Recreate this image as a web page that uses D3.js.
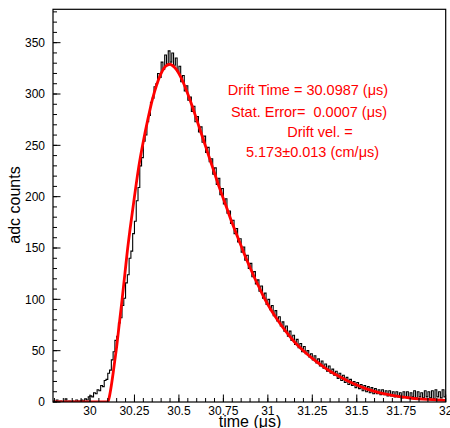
<!DOCTYPE html>
<html><head><meta charset="utf-8">
<script src="https://cdn.jsdelivr.net/npm/d3@7"></script>
<style>body{margin:0;background:#fff}svg{display:block}text{white-space:pre}</style>
</head><body>
<script>
// ---- data ----
const histStart = 29.79, histStep = 0.01;
const histCounts = [
1,0,2,0,1,0,0,3,0,1, 0,1,0,2,1,1,2,1,3,2,
5,6,5,9,8,12,11,16,15,21, 22,28,31,41,49,60,64,77,82,94,
101,116,124,140,147,164,176,196,209,230, 238,254,260,273,279,292,296,307,310,320,
316,331,324,338,329,342,331,340,328,335, 322,327,312,318,303,308,294,297,283,288,
273,278,263,268,253,259,243,248,234,237, 222,228,212,218,202,208,193,198,184,186,
174,177,164,169,156,159,146,151,138,143, 130,135,122,127,115,119,108,113,101,106,
95,100,90,94,84,89,79,83,74,78, 69,74,64,69,60,65,56,61,53,57,
49,54,47,50,44,47,41,45,38,42, 35,40,33,37,30,35,28,32,26,30,
23,28,21,26,19,24,17,22,16,20, 14,19,13,17,11,16,10,15,9,14,
8,13,8,12,7,12,7,11,6,11, 6,10,5,10,5,9,4,10,5,10,
4,9,5,11,4,10,5,9,4,11, 5,10,4,11,3,12,5,10,4,12,
5,11
];
const fitTimes = [29.79,30.10,30.11,30.12,30.13,30.14,30.15,30.16,30.17,30.18,30.19,30.20,30.21,30.225,30.25,30.275,30.30,30.325,30.35,30.375,30.40,30.425,30.45,30.475,30.50,30.525,30.55,30.575,30.60,30.625,30.65,30.675,30.70,30.725,30.75,30.775,30.80,30.825,30.85,30.875,30.90,30.925,30.95,30.975,31.00,31.05,31.10,31.15,31.20,31.25,31.30,31.35,31.40,31.45,31.50,31.55,31.60,31.65,31.70,31.75,31.80,31.85,31.90,31.95,32.00];
const fitValues = [0,0,6,16,28,41,54,69,84,99,115,131,147,168,200,230,254,275,294,309,320,327,329,326,320,311,300,288,275,262,249,236,223,210,198,186,174,163,152,141,131,121,112,103,95,81,69,58.5,50,42.5,36,30,25,20.5,16.5,13,10.3,8.1,6.4,5,3.9,3.1,2.5,2,1.6];
const xTickValues = [30,30.25,30.5,30.75,31,31.25,31.5,31.75,32];
const xTickLabels = ["30","30.25","30.5","30.75","31","31.25","31.5","31.75","32"];
const yTickValues = [0,50,100,150,200,250,300,350];
const fitTextLines = ["Drift Time = 30.0987 (\u03bcs)","Stat. Error=  0.0007 (\u03bcs)","Drift vel. =","5.173\u00b10.013 (cm/\u03bcs)"];

// ---- layout ----
const W=450,H=428;
const L=53,R=445.7,T=9.3,B=402;
const svg=d3.select("body").append("svg").attr("width",W).attr("height",H)
  .style("font-family","'Liberation Sans', Arial, sans-serif");
const x=d3.scaleLinear().domain([29.792,32]).range([L,R]);
const y=d3.scaleLinear().domain([0,382.5]).range([B,T]);

svg.append("defs").append("clipPath").attr("id","clip")
  .append("rect").attr("x",L).attr("y",T).attr("width",R-L).attr("height",B-T);

const hist=histCounts.map((v,i)=>[histStart+i*histStep,v]);
const g=svg.append("g").attr("clip-path","url(#clip)");
g.append("path").datum(hist)
  .attr("d",d3.line().x(d=>x(d[0])).y(d=>y(d[1])).curve(d3.curveStepAfter))
  .attr("fill","none").attr("stroke","#000").attr("stroke-width",1.1);
const fit=fitTimes.map((t,i)=>[t,fitValues[i]]);
g.append("path").datum(fit)
  .attr("d",d3.line().x(d=>x(d[0])).y(d=>y(d[1])).curve(d3.curveMonotoneX))
  .attr("fill","none").attr("stroke","#ff0000").attr("stroke-width",2.8);

// frame
svg.append("rect").attr("x",L).attr("y",T).attr("width",R-L).attr("height",B-T)
  .attr("fill","none").attr("stroke","#000").attr("stroke-width",1.2);

// x axis ticks (inward)
const xMinor=d3.range(0,45).map(i=>29.8+i*0.05).filter(v=>v<=32.0001 && v>=29.792);
svg.append("g").selectAll("line").data(xMinor).join("line")
  .attr("x1",d=>x(d)).attr("x2",d=>x(d)).attr("y1",B).attr("y2",B-4)
  .attr("stroke","#000");
svg.append("g").selectAll("line").data(xTickValues).join("line")
  .attr("x1",d=>x(d)).attr("x2",d=>x(d)).attr("y1",B).attr("y2",B-7.5)
  .attr("stroke","#000");
svg.append("g").selectAll("text").data(xTickValues).join("text")
  .attr("x",d=>x(d)).attr("y",414.5).attr("text-anchor","middle")
  .attr("font-size",12).text((d,i)=>xTickLabels[i]);

// y axis ticks
const yMinor=d3.range(0,39).map(i=>i*10);
svg.append("g").selectAll("line").data(yMinor).join("line")
  .attr("x1",L).attr("x2",L+4).attr("y1",d=>y(d)).attr("y2",d=>y(d))
  .attr("stroke","#000");
svg.append("g").selectAll("line").data(yTickValues).join("line")
  .attr("x1",L).attr("x2",L+7.5).attr("y1",d=>y(d)).attr("y2",d=>y(d))
  .attr("stroke","#000");
svg.append("g").selectAll("text").data(yTickValues).join("text")
  .attr("x",45).attr("y",d=>y(d)+4.3).attr("text-anchor","end")
  .attr("font-size",12).text(d=>d);

// titles
svg.append("text").attr("x",250).attr("y",426.5).attr("text-anchor","middle")
  .attr("font-size",16).text("time (\u03bcs)");
svg.append("text").attr("transform","translate(20,205) rotate(-90)")
  .attr("text-anchor","middle").attr("font-size",16).text("adc counts");

// fit results
const lineX=[308,309,320,312.5], lineY=[95,116.5,136.5,156.5];
svg.append("g").selectAll("text").data(fitTextLines).join("text")
  .attr("x",(d,i)=>lineX[i]).attr("y",(d,i)=>lineY[i]).attr("text-anchor","middle")
  .attr("font-size",14.5).attr("fill","#ff0000").text(d=>d);
</script>
</body></html>
